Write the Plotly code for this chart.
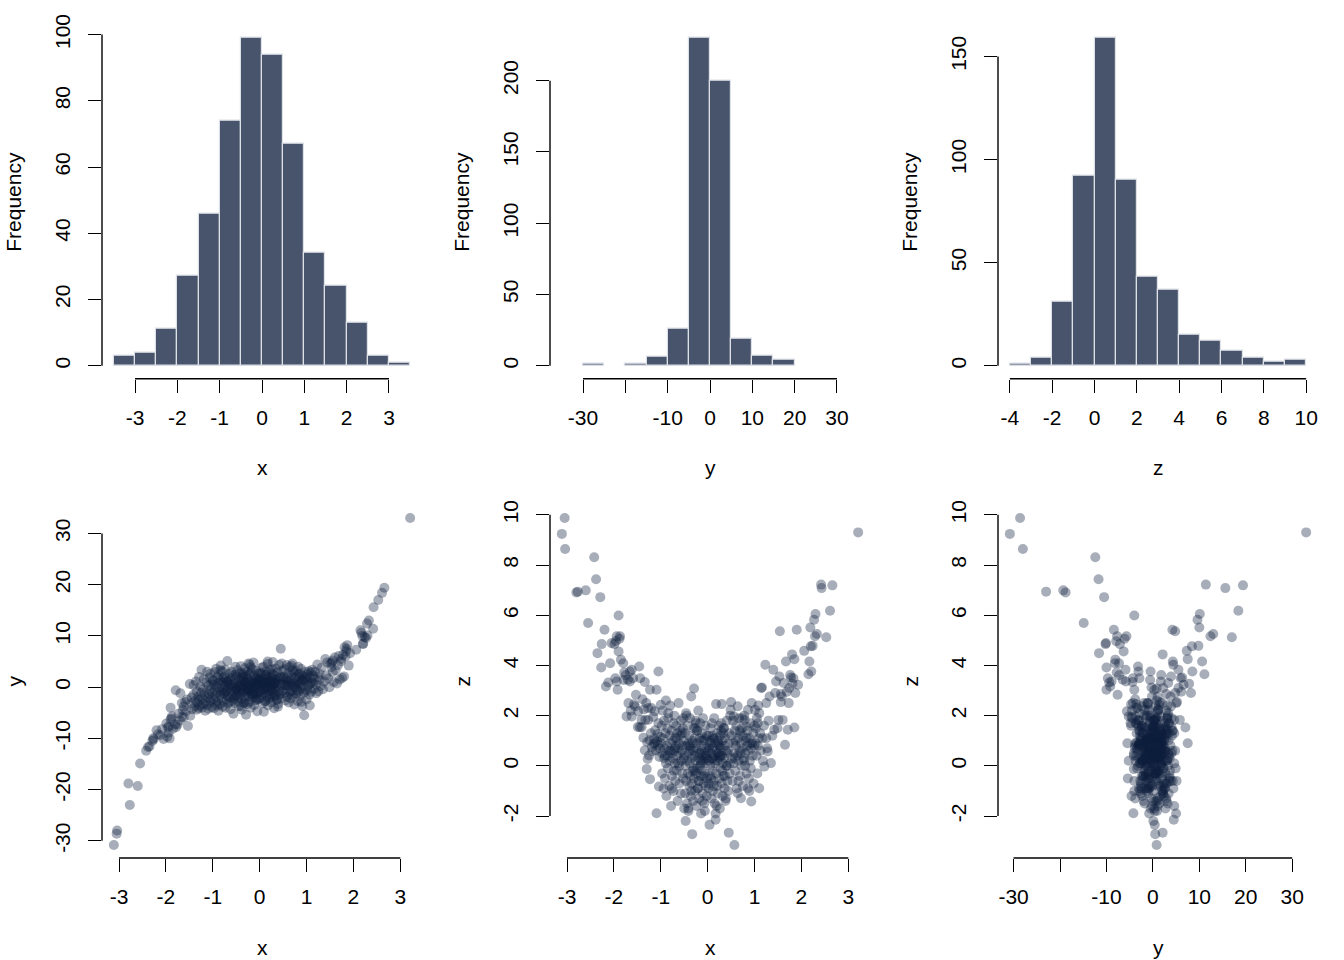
import plotly.graph_objects as go

# ---- histogram data (bin edges and counts) ----
x_breaks = [-3.5, -3.0, -2.5, -2.0, -1.5, -1.0, -0.5, 0.0, 0.5, 1.0, 1.5, 2.0, 2.5, 3.0, 3.5]
x_counts = [3, 4, 11, 27, 46, 74, 99, 94, 67, 34, 24, 13, 3, 1]

y_breaks = [-30, -25, -20, -15, -10, -5, 0, 5, 10, 15, 20]
y_counts = [1, 0, 1, 6, 26, 230, 200, 19, 7, 4]

z_breaks = [-4, -3, -2, -1, 0, 1, 2, 3, 4, 5, 6, 7, 8, 9, 10]
z_counts = [1, 4, 31, 92, 159, 90, 43, 37, 15, 12, 7, 4, 2, 3]

# x limits used by the histograms
hist_xlims = [[-3.5, 3.5], [-35, 35], [-4, 10]]

# ---- tick positions / labels ----
hx_ticks = [-3, -2, -1, 0, 1, 2, 3]
hx_labels = ["-3", "-2", "-1", "0", "1", "2", "3"]
hy_ticks = [-30, -20, -10, 0, 10, 20, 30]
hy_labels = ["-30", "", "-10", "0", "10", "20", "30"]
hz_ticks = [-4, -2, 0, 2, 4, 6, 8, 10]
hz_labels = ["-4", "-2", "0", "2", "4", "6", "8", "10"]
freq1_ticks = [0, 20, 40, 60, 80, 100]
freq2_ticks = [0, 50, 100, 150, 200]
freq3_ticks = [0, 50, 100, 150]
sy_ticks = [-30, -20, -10, 0, 10, 20, 30]
sy_labels = ["-30", "-20", "-10", "0", "10", "20", "30"]
sz_ticks = [-2, 0, 2, 4, 6, 8, 10]
sz_labels = ["-2", "0", "2", "4", "6", "8", "10"]

# ---- the 500 (x, y, z) points, grouped by x bin ----
x_vals = [
    # (-3.5, -3]
    -3.11, -3.05, -3.04,
    # (-3, -2.5]
    -2.80, -2.77, -2.60, -2.55,
    # (-2.5, -2]
    -2.42, -2.38, -2.35, -2.29, -2.27, -2.26, -2.20, -2.17, -2.12, -2.08, -2.05,
    # (-2, -1.5]
    -1.99, -1.97, -1.96, -1.94, -1.94, -1.92, -1.90, -1.90, -1.88, -1.87,
    -1.85, -1.80, -1.79, -1.78, -1.75, -1.73, -1.70, -1.69, -1.66, -1.66,
    -1.64, -1.62, -1.62, -1.59, -1.57, -1.55, -1.53,
    # (-1.5, -1]
    -1.49, -1.48, -1.46, -1.45, -1.44, -1.41, -1.41, -1.39, -1.37, -1.36,
    -1.34, -1.34, -1.33, -1.31, -1.30, -1.29, -1.28, -1.27, -1.27, -1.25,
    -1.24, -1.23, -1.23, -1.21, -1.20, -1.19, -1.18, -1.16, -1.15, -1.14,
    -1.13, -1.12, -1.12, -1.10, -1.09, -1.09, -1.08, -1.07, -1.06, -1.05,
    -1.05, -1.04, -1.03, -1.02, -1.01, -1.00,
    # (-1, -0.5]
    -0.99, -0.98, -0.97, -0.97, -0.96, -0.95, -0.94, -0.93, -0.93, -0.92,
    -0.91, -0.90, -0.89, -0.89, -0.88, -0.87, -0.86, -0.85, -0.85, -0.84,
    -0.83, -0.82, -0.81, -0.81, -0.80, -0.79, -0.78, -0.77, -0.77, -0.76,
    -0.75, -0.74, -0.73, -0.73, -0.72, -0.71, -0.70, -0.69, -0.69, -0.68,
    -0.67, -0.66, -0.65, -0.65, -0.64, -0.63, -0.62, -0.61, -0.61, -0.60,
    -0.59, -0.58, -0.57, -0.57, -0.56, -0.55, -0.54, -0.53, -0.53, -0.52,
    -0.52, -0.51, -0.51, -0.50, -0.58, -0.63, -0.70, -0.76, -0.84, -0.91,
    -0.66, -0.72, -0.79, -0.55,
    # (-0.5, 0]
    -0.49, -0.48, -0.48, -0.47, -0.46, -0.46, -0.45, -0.44, -0.44, -0.43,
    -0.42, -0.42, -0.41, -0.40, -0.40, -0.39, -0.38, -0.38, -0.37, -0.36,
    -0.36, -0.35, -0.34, -0.34, -0.33, -0.33, -0.32, -0.31, -0.31, -0.30,
    -0.29, -0.29, -0.28, -0.28, -0.27, -0.26, -0.26, -0.25, -0.24, -0.24,
    -0.23, -0.22, -0.22, -0.21, -0.20, -0.20, -0.19, -0.18, -0.18, -0.17,
    -0.16, -0.16, -0.15, -0.14, -0.14, -0.13, -0.12, -0.12, -0.11, -0.10,
    -0.10, -0.09, -0.08, -0.08, -0.07, -0.06, -0.06, -0.05, -0.04, -0.04,
    -0.03, -0.02, -0.02, -0.01, -0.01, -0.45, -0.41, -0.37, -0.32, -0.27,
    -0.23, -0.19, -0.15, -0.11, -0.07, -0.03, -0.47, -0.39, -0.30, -0.25,
    -0.21, -0.17, -0.13, -0.09, -0.05, -0.35, -0.26, -0.14, -0.06,
    # (0, 0.5]
    0.01, 0.02, 0.02, 0.03, 0.04, 0.04, 0.05, 0.06, 0.06, 0.07,
    0.08, 0.08, 0.09, 0.10, 0.10, 0.11, 0.12, 0.12, 0.13, 0.14,
    0.14, 0.15, 0.16, 0.16, 0.17, 0.18, 0.18, 0.19, 0.20, 0.20,
    0.21, 0.22, 0.22, 0.23, 0.24, 0.24, 0.25, 0.26, 0.26, 0.27,
    0.28, 0.28, 0.29, 0.30, 0.30, 0.31, 0.32, 0.32, 0.33, 0.34,
    0.34, 0.35, 0.36, 0.36, 0.37, 0.38, 0.39, 0.40, 0.41, 0.42,
    0.43, 0.44, 0.45, 0.45, 0.46, 0.47, 0.48, 0.49, 0.50, 0.03,
    0.07, 0.11, 0.15, 0.19, 0.23, 0.27, 0.31, 0.35, 0.39, 0.43,
    0.47, 0.05, 0.13, 0.21, 0.29, 0.37, 0.09, 0.17, 0.25, 0.33,
    0.41, 0.02, 0.14, 0.26,
    # (0.5, 1]
    0.51, 0.52, 0.53, 0.54, 0.55, 0.56, 0.57, 0.57, 0.58, 0.59,
    0.60, 0.61, 0.62, 0.63, 0.64, 0.64, 0.65, 0.66, 0.67, 0.68,
    0.69, 0.70, 0.71, 0.71, 0.72, 0.73, 0.74, 0.75, 0.76, 0.77,
    0.78, 0.79, 0.80, 0.81, 0.82, 0.83, 0.84, 0.85, 0.86, 0.86,
    0.87, 0.88, 0.89, 0.90, 0.91, 0.92, 0.93, 0.94, 0.95, 0.96,
    0.97, 0.98, 0.99, 1.00, 0.55, 0.60, 0.66, 0.70, 0.74, 0.78,
    0.83, 0.89, 0.93, 0.58, 0.68, 0.80, 0.91,
    # (1, 1.5]
    1.01, 1.02, 1.03, 1.04, 1.05, 1.06, 1.07, 1.07, 1.08, 1.09,
    1.10, 1.10, 1.12, 1.13, 1.14, 1.16, 1.17, 1.18, 1.20, 1.21,
    1.23, 1.25, 1.25, 1.27, 1.28, 1.30, 1.32, 1.35, 1.38, 1.40,
    1.42, 1.44, 1.46, 1.49,
    # (1.5, 2]
    1.51, 1.53, 1.54, 1.56, 1.56, 1.58, 1.60, 1.62, 1.65, 1.67,
    1.69, 1.71, 1.73, 1.74, 1.76, 1.78, 1.80, 1.81, 1.83, 1.85,
    1.85, 1.87, 1.90, 1.93,
    # (2, 2.5]
    2.06, 2.15, 2.17, 2.19, 2.20, 2.21, 2.24, 2.27, 2.29, 2.30,
    2.33, 2.42, 2.43,
    # (2.5, 3]
    2.53, 2.61, 2.66,
    # (3, 3.5]
    3.21,
]

y_vals = [
    -30.8, -28.6, -28.0,
    -18.8, -23.0, -19.3, -14.9,
    -12.4, -11.7, -11.6, -10.5, -10.0, -10.2, -8.4, -9.2, -9.4, -8.2, -10.1,
    -7.1, -9.7, -7.9, -8.9, -7.7, -10.0, -4.0, -6.3, -6.1, -5.7,
    -8.1, -7.3, -0.6, -7.8, -7.3, -5.2, -6.5, -1.2, -5.8, -3.1,
    -4.5, -5.9, -3.8, -2.9, -4.7, -2.4, -7.6,
    0.6, -5.6, -3.2, -2.0, -4.3, 0.4, -1.5, -3.8, -2.6, 1.1,
    -4.4, -0.8, -3.0, -1.9, -4.1, 2.0, -2.4, -3.6, 0.1, -1.1,
    3.4, -4.0, -2.2, -0.3, -3.3, 1.6, -1.6, -4.6, -2.8, 0.9,
    -1.0, -3.5, 3.0, -2.1, 0.3, -4.2, -1.4, 1.9, -3.0, -0.5,
    2.6, -2.5, 0.6, -3.9, -1.2, 1.3,
    1.2, -2.3, 0.4, -4.1, 2.9, -0.7, -1.8, 3.6, -3.0, 0.1,
    -1.1, 1.9, -2.7, 0.8, -4.6, 2.3, -0.2, -3.4, 1.4, -1.5,
    4.2, -0.9, 0.5, -2.1, 3.1, -3.8, 1.0, -0.4, -2.9, 2.0,
    -1.3, 0.2, 3.4, -4.0, 1.6, -0.6, -2.4, 0.9, 5.1, -1.7,
    -3.2, 1.3, -0.1, 2.6, -2.0, 0.6, -4.3, 1.8, -0.8, 3.0,
    -1.4, 0.0, -2.6, 2.2, -5.2, 0.7, -1.0, 1.5, -3.1, 4.0,
    -0.3, -1.9, 2.4, -0.5, 0.3, -2.8, 1.1, -1.2, 3.3, -3.6,
    0.4, -0.9, 1.7, -2.2,
    -1.6, 2.1, -0.4, 3.3, -2.8, 0.6, -0.9, 1.4, -3.7, 0.2,
    2.7, -1.3, 0.9, -2.2, 4.1, -0.5, 1.8, -4.4, 0.3, -1.0,
    2.4, -0.2, -3.1, 1.2, 0.5, -1.9, 3.7, -0.7, 1.0, -2.5,
    0.8, -5.4, 2.0, -1.1, 0.1, 3.0, -3.3, 1.6, -0.6, 4.6,
    -1.7, 0.4, -2.9, 2.5, -0.3, 1.1, -4.0, 0.7, 2.9, -1.4,
    0.0, 3.5, -2.0, 1.3, -0.8, 4.8, -3.5, 0.9, -1.2, 2.2,
    -0.4, 1.7, -2.6, 0.2, 3.2, -1.5, 0.6, -4.7, 1.9, -0.1,
    2.6, -2.3, 0.5, 1.4, -0.9, -1.8, 0.3, 2.8, -3.0, 1.0,
    -0.5, 3.9, -1.6, 0.7, -2.4, 1.5, 0.1, -3.8, 2.3, -0.7,
    4.4, -1.0, 0.8, -2.1, 1.2, 2.0, -0.2, -1.3, 0.4,
    1.3, -0.8, 2.6, -2.1, 0.4, 3.8, -1.5, 0.9, -3.2, 1.7,
    -0.3, 4.0, -4.8, 0.6, -1.2, 2.2, -0.5, 1.0, -2.7, 3.1,
    0.2, -1.8, 1.5, -0.1, 4.5, -3.6, 0.8, 2.0, -0.9, 1.2,
    -2.3, 0.5, 3.4, -1.4, 0.0, 1.9, -3.0, 2.7, -0.6, 1.1,
    4.9, -2.0, 0.3, -1.0, 2.4, -4.1, 1.6, 0.7, -0.4, 3.6,
    -1.7, 0.9, -2.5, 1.4, 0.1, 2.9, -3.3, 1.8, -0.7, 4.3,
    0.6, -1.3, 7.5, 2.1, -2.2, 0.4, 3.2, -0.8, 1.5, -1.1,
    0.8, -2.8, 2.5, -0.2, 1.0, 3.5, -1.6, 0.3, -3.8, 1.9,
    4.6, -0.5, 2.3, -1.9, 0.7, -2.4, 1.2, 5.0, -0.3, 0.9,
    -1.5, 2.8, 0.2, 1.6,
    2.0, -1.2, 3.5, 0.4, -2.6, 1.6, 0.8, -0.5, 4.3, -1.9,
    1.1, 2.7, -3.0, 0.2, 3.9, -1.0, 1.4, -2.2, 0.6, 2.4,
    -0.8, 4.6, 1.0, -1.6, 0.3, 2.9, -3.4, 1.7, 0.0, 3.2,
    -1.3, 0.9, 2.1, -2.7, 4.0, 0.5, -0.9, 1.8, 2.6, -1.8,
    0.7, 3.6, -0.2, 1.3, -3.7, 2.2, 0.1, -1.1, -5.5, 1.5,
    3.0, -0.6, 2.0, -2.4, 0.4, 1.9, -1.4, 3.3, 0.6, -0.1,
    2.5, -2.9, 1.2, 0.3, 4.2, -0.7, 1.6,
    1.2, -0.6, 2.5, 0.3, 3.1, -1.5, -3.6, 1.8, 0.6, 2.9,
    1.0, -0.9, 3.4, 0.8, 2.2, -0.3, 1.6, 3.0, 0.5, -1.2,
    4.4, 2.0, -0.8, 1.4, 2.6, 0.2, 3.8, -0.4, 1.1, 5.5,
    2.3, 4.8, 1.7, 0.0,
    4.6, 3.9, 4.8, 2.9, 5.2, 1.0, 5.8, 3.3, 0.7, 4.3,
    6.1, 1.5, 5.0, 5.5, 1.8, 6.3, 2.1, 7.8, 6.0, 7.5,
    7.0, 8.2, 4.2, 6.6,
    7.3, 11.1, 10.6, 10.0, 8.4, 8.5, 9.8, 9.6, 12.4, 10.1,
    13.0, 11.4, 15.6,
    17.0, 18.4, 19.4,
    33.0,
]

z_vals = [
    9.24, 9.87, 8.64,
    6.91, 6.94, 6.99, 5.69,
    8.31, 7.43, 4.49, 6.72, 3.92, 4.85, 5.42, 3.16, 3.32, 4.09, 4.89,
    4.85, 3.49, 4.96, 3.36, 5.16, 3.03, 5.99, 4.56, 5.06, 5.16,
    4.23, 4.09, 3.42, 3.72, 3.61, 1.97, 3.43, 2.50, 3.36, 3.76,
    2.20, 3.83, 1.97, 3.49, 2.45, 2.37, 2.83,
    1.55, 2.17, 3.96, 1.54, 3.49, 1.83, 1.54, 2.65, 1.12, 2.25,
    3.34, 0.62, 1.83, 2.50, -0.13, 0.95, 0.27, 2.30, 1.83, 0.41,
    1.02, 3.03, -0.53, 1.30, 2.30, 0.75, 0.58, 1.95, 0.88, 1.08,
    2.17, 0.92, 1.42, 0.61, 3.03, -1.89, 0.98, 1.27, 0.83, 3.76,
    1.70, -0.82, 0.35, 0.70, 1.15, 2.43,
    0.9, 1.6, -0.3, 0.5, 2.2, 1.1, -0.9, 0.3, 1.8, 0.7,
    -0.5, 1.3, 0.1, 2.6, -1.2, 0.8, 1.5, -0.1, 0.4, 1.9,
    0.6, -0.8, 1.2, 0.2, 2.4, 0.9, -1.6, 0.5, 1.4, -0.4,
    1.0, 0.3, 1.7, -1.0, 0.6, 2.0, 0.1, 1.1, -0.6, 0.8,
    1.6, -0.2, 0.4, 1.3, -1.4, 0.7, 2.5, 0.0, 0.9, -0.7,
    1.2, 0.5, -1.1, 1.8, 0.2, 0.6, -0.3, 1.5, 0.8, 1.9,
    -0.5, 0.3, 1.0, -1.7, 1.4, 0.1, 0.7, -0.9, 2.1, 0.4,
    1.1, -0.2, 0.6, 1.3,
    0.4, -1.1, 1.3, 0.0, 2.1, -0.6, 0.8, -1.5, 0.2, 1.6,
    -0.3, 0.9, -1.8, 0.5, 1.2, -0.8, 0.1, 1.9, -0.4, 0.7,
    -1.2, 2.76, 0.3, -0.7, -2.72, 1.0, -0.2, 0.6, -1.4, 1.5,
    3.08, -0.5, 0.4, 1.1, -1.0, 0.2, 1.8, -0.3, 0.7, -1.6,
    0.9, -0.1, 1.4, -0.9, 0.3, 2.2, -0.6, 0.5, -1.3, 1.1,
    0.0, 1.7, -0.4, 0.8, -1.9, 0.6, 1.3, -0.2, 0.4, -1.1,
    1.9, 0.2, -0.7, 1.0, -1.5, 0.5, -0.3, 1.6, 0.1, -0.8,
    0.7, -1.2, 1.2, 0.3, -0.5, 2.0, -1.7, 0.6, 0.9, -0.2,
    1.4, -0.6, 0.2, -1.4, 1.1, 0.4, -2.2, 0.8, -0.1, 1.7,
    -0.9, 0.5, 1.0, -0.4, 0.3, -1.0, 1.5, 0.1, -1.8,
    0.6, -0.9, 1.2, 0.2, -2.35, 0.8, -0.4, 1.5, 0.0, 0.9,
    -1.3, 0.5, 1.7, -0.2, 0.7, -1.0, 1.1, 0.3, -0.6, 1.9,
    0.4, -1.5, 0.9, 0.1, -2.15, 2.46, -0.3, 0.6, 1.3, -0.8,
    0.2, 1.0, -1.1, 0.5, 1.6, -0.5, 0.8, -1.7, 0.3, 1.2,
    -0.1, 0.7, 1.4, 2.46, -0.7, 0.4, -1.2, 1.0, 0.1, -0.4,
    1.5, 0.3, -0.9, 0.8, 1.1, -1.4, 0.6, 0.0, 1.8, -0.6,
    0.5, -1.0, 0.9, -2.66, 1.3, -0.3, 2.0, 2.23, 2.54, 0.7,
    -0.5, 1.2, 0.2, -1.6, 0.9, 0.4, -0.2, 1.5, -1.3, 0.6,
    0.1, 1.0, -0.8, 0.5, 1.7, -0.4, 0.3, -1.9, 0.8, 1.3,
    0.0, -0.7, 1.1, 0.4,
    1.2, 0.3, -0.6, 1.8, 0.9, 1.97, -3.15, 0.5, 1.4, -0.2,
    0.8, 1.6, -0.9, 0.4, 2.37, -1.09, 1.1, 0.2, 1.9, 0.6,
    -0.4, 1.3, -1.29, 0.9, 0.0, 1.5, 0.7, -0.8, 1.2, 0.3,
    2.0, 1.83, 0.5, 1.0, 1.57, -0.3, 0.8, 1.4, -0.89, 2.23,
    0.6, -0.5, 1.1, 0.2, 1.7, -0.1, -1.42, 2.50, 0.9, 0.4,
    1.3, -0.7, 0.8, 1.6, 0.1, 1.0, -0.6, 0.5, 1.9, 0.2,
    1.1, -1.0, 0.7, 0.3, 1.4, 0.0, 0.9,
    2.23, 0.9, 1.5, 0.4, 1.9, -0.3, 1.70, 0.8, 2.4, 1.1,
    2.10, -0.89, 1.3, 0.6, 3.10, 3.12, 1.10, 0.2, 1.6, -0.03,
    4.03, 2.50, 1.10, 0.7, 0.57, 1.8, 2.76, 0.11, 1.2, 3.83,
    1.44, 2.9, 3.36, 1.50,
    1.83, 3.56, 5.36, 2.86, 2.54, 2.76, 1.83, 3.30, 0.84, 4.16,
    2.95, 1.44, 2.50, 3.10, 3.62, 3.52, 4.44, 3.27, 3.49, 4.25,
    1.53, 2.90, 5.42, 3.23,
    4.58, 3.65, 4.16, 5.51, 4.76, 3.76, 4.78, 5.82, 5.16, 6.05,
    5.25, 7.22, 7.08,
    5.12, 6.18, 7.19,
    9.30,
]

# ---- styling ----
W, H = 1344, 960
FONT = "Liberation Sans, Arial, Helvetica, sans-serif"
FS = 21
BAR_FILL = "#48546b"
BAR_EDGE = "#dde0e7"
PT_COLOR = "rgba(15, 30, 62, 0.36)"

# plot regions in pixels (left, right) per column and (top, bottom) per row
col_px = [(102 + 448 * c, 422 + 448 * c) for c in range(3)]
row_px = [(24.8, 378.8), (505.0, 858.0)]


def ext(lo, hi):
    pad = 0.04 * (hi - lo)
    return [lo - pad, hi + pad]


def centers(br):
    return [(br[i] + br[i + 1]) / 2 for i in range(len(br) - 1)]


def widths(br):
    return [br[i + 1] - br[i] for i in range(len(br) - 1)]


fig = go.Figure()

hists = [(x_breaks, x_counts), (y_breaks, y_counts), (z_breaks, z_counts)]
for i, (br, cnt) in enumerate(hists):
    ax = "" if i == 0 else str(i + 1)
    # empty bins draw nothing
    edge_w = [1.2 if n > 0 else 0 for n in cnt]
    fig.add_trace(go.Bar(
        x=centers(br), y=cnt, width=widths(br),
        marker=dict(color=BAR_FILL, line=dict(color=BAR_EDGE, width=edge_w)),
        xaxis="x" + ax, yaxis="y" + ax, showlegend=False, hoverinfo="x+y",
    ))

pairs = [(x_vals, y_vals), (x_vals, z_vals), (y_vals, z_vals)]
for i, (a, b) in enumerate(pairs):
    ax = str(i + 4)
    fig.add_trace(go.Scatter(
        x=a, y=b, mode="markers",
        marker=dict(size=10, color=PT_COLOR, line=dict(width=0)),
        xaxis="x" + ax, yaxis="y" + ax, showlegend=False,
    ))

# axis settings
x_tick_sets = [(hx_ticks, hx_labels), (hy_ticks, hy_labels), (hz_ticks, hz_labels),
               (hx_ticks, hx_labels), (hx_ticks, hx_labels), (hy_ticks, hy_labels)]
y_tick_sets = [(freq1_ticks, [str(v) for v in freq1_ticks]),
               (freq2_ticks, [str(v) for v in freq2_ticks]),
               (freq3_ticks, [str(v) for v in freq3_ticks]),
               (sy_ticks, sy_labels), (sz_ticks, sz_labels), (sz_ticks, sz_labels)]
x_ranges = [ext(*hist_xlims[0]), ext(*hist_xlims[1]), ext(*hist_xlims[2]),
            ext(min(x_vals), max(x_vals)), ext(min(x_vals), max(x_vals)),
            ext(min(y_vals), max(y_vals))]
y_ranges = [ext(0, max(x_counts)), ext(0, max(y_counts)), ext(0, max(z_counts)),
            ext(min(y_vals), max(y_vals)), ext(min(z_vals), max(z_vals)),
            ext(min(z_vals), max(z_vals))]
x_titles = ["x", "y", "z", "x", "x", "y"]
y_titles = ["Frequency", "Frequency", "Frequency", "y", "z", "z"]

common = dict(showgrid=False, zeroline=False, showline=False, ticks="outside",
              ticklen=13, tickwidth=1.4, tickcolor="black",
              tickfont=dict(family=FONT, size=FS, color="black"),
              tickmode="array", automargin=False)

layout = {}
shapes = []
annotations = []
for i in range(6):
    r, c = divmod(i, 3)
    ax = "" if i == 0 else str(i + 1)
    l, rr = col_px[c]
    t, b = row_px[r]
    xt, xl = x_tick_sets[i]
    yt, yl = y_tick_sets[i]
    layout["xaxis" + ax] = dict(common, domain=[l / W, rr / W], range=x_ranges[i],
                                tickvals=xt, ticktext=xl, anchor="y" + ax,
                                ticklabelstandoff=7)
    layout["yaxis" + ax] = dict(common, domain=[1 - b / H, 1 - t / H], range=y_ranges[i],
                                tickvals=yt, ticktext=yl, tickangle=-90, anchor="x" + ax,
                                ticklabelstandoff=10)
    # R style axis lines spanning first to last tick
    shapes.append(dict(type="line", xref="x" + ax, yref="y" + ax + " domain",
                       x0=xt[0], x1=xt[-1], y0=0, y1=0,
                       line=dict(color="black", width=1.4)))
    shapes.append(dict(type="line", xref="x" + ax + " domain", yref="y" + ax,
                       x0=0, x1=0, y0=yt[0], y1=yt[-1],
                       line=dict(color="black", width=1.4)))
    annotations.append(dict(text=x_titles[i], xref="paper", yref="paper",
                            x=(l + rr) / 2 / W, y=1 - (b + 89) / H,
                            showarrow=False, xanchor="center", yanchor="middle",
                            font=dict(family=FONT, size=FS, color="black")))
    annotations.append(dict(text=y_titles[i], xref="paper", yref="paper",
                            x=(448 * c + 14) / W, y=1 - (t + b) / 2 / H,
                            showarrow=False, textangle=-90,
                            xanchor="center", yanchor="middle",
                            font=dict(family=FONT, size=FS, color="black")))

fig.update_layout(
    **layout,
    shapes=shapes,
    annotations=annotations,
    width=W, height=H,
    margin=dict(l=0, r=0, t=0, b=0, autoexpand=False),
    paper_bgcolor="white", plot_bgcolor="white",
    bargap=0,
    font=dict(family=FONT, size=FS, color="black"),
)

# drop the page's default body margin so the figure sits at the window origin
fig.write_html("out.html", config={"displayModeBar": False},
               post_script="document.body.style.margin = '0px';")
